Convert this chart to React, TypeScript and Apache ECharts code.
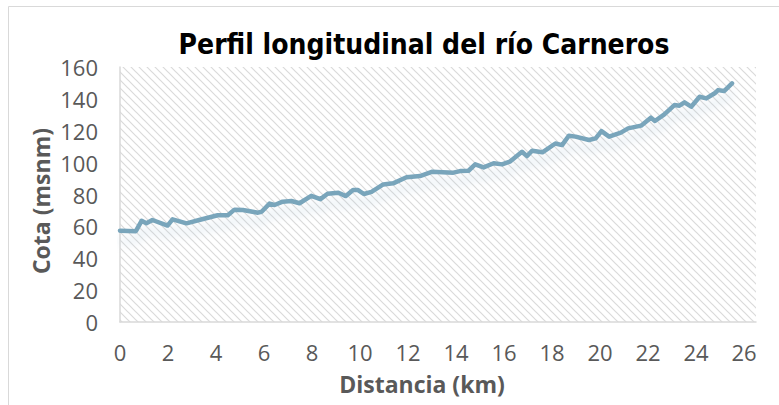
import React, { useEffect, useRef } from "react";
import * as echarts from "echarts";

const distanceKm = [
  0, 0.66, 0.9, 1.1, 1.35, 1.98, 2.19, 2.77, 3.3, 4.07, 4.49, 4.77, 5.12, 5.75, 5.9,
  6.23, 6.44, 6.78, 7.14, 7.48, 7.97, 8.35, 8.65, 9.1, 9.41, 9.71, 9.92, 10.16, 10.48,
  10.97, 11.38, 11.94, 12.5, 12.99, 13.89, 14.17, 14.52, 14.8, 15.15, 15.57, 15.92,
  16.24, 16.75, 16.96, 17.17, 17.6, 17.8, 18.14, 18.42, 18.7, 18.98, 19.54, 19.82,
  20.06, 20.38, 20.87, 21.17, 21.71, 22.12, 22.29, 22.68, 23.1, 23.31, 23.52, 23.8,
  24.15, 24.43, 24.78, 24.92, 25.17, 25.5,
];
const elevation = [
  57.3, 57, 63.5, 62, 64, 60.5, 64.4, 61.9, 64, 67, 67, 70.5, 70.3, 68.6, 69.2,
  74.3, 73.4, 75.5, 75.9, 74.5, 79.2, 77.1, 80.5, 81.1, 79, 82.8, 82.8, 80.3, 81.7,
  86.3, 87, 90.8, 91.6, 94.2, 93.7, 94.7, 94.9, 98.9, 97, 99.6, 98.9,
  100.6, 106.8, 104.1, 107.5, 106.5, 108.5, 112, 111, 116.9, 116.3, 114.2, 115.2,
  119.8, 116.3, 118.8, 121.5, 123.2, 128.2, 126.1, 130.3, 136.1, 135.7, 137.8, 135.1,
  141.3, 140.3, 143.5, 145.5, 144.9, 149.7,
];

const titleText = "Perfil longitudinal del río Carneros";
const xTitle = "Distancia (km)";
const yTitle = "Cota (msnm)";

const hatchSvg =
  "<svg xmlns='http://www.w3.org/2000/svg' width='8' height='8'>" +
  "<path d='M-2,-2 L10,10 M-2,6 L2,10 M6,-2 L10,2' stroke='#dadada' stroke-width='1.2' fill='none'/></svg>";
const hatchUrl = "data:image/svg+xml;charset=utf-8," + encodeURIComponent(hatchSvg);

export default function App() {
  const ref = useRef<HTMLDivElement>(null);
  useEffect(() => {
    if (!ref.current) return;
    const chart = echarts.init(ref.current, undefined, { renderer: "svg" });
    const data = distanceKm.map((d, i) => [d, elevation[i]]);
    chart.setOption({
      animation: false,
      backgroundColor: "#ffffff",
      grid: {
        left: 120,
        right: 23,
        top: 67,
        bottom: 83,
        show: true,
        borderWidth: 0,
        backgroundColor: {
          image: hatchUrl,
          repeat: "repeat",
          imageWidth: 8,
          imageHeight: 8,
        } as any,
      },
      xAxis: {
        type: "value",
        min: 0,
        max: 26.5,
        interval: 2,
        axisLine: { show: true, onZero: false, lineStyle: { color: "#d9d9d9", width: 1.5 } },
        axisTick: { show: false },
        splitLine: { show: false },
        axisLabel: {
          margin: 19,
          color: "#595959",
          fontSize: 22,
          fontFamily: "'Open Sans', sans-serif",
          formatter: (v: number) => (v % 2 === 0 ? String(v) : ""),
        },
      },
      yAxis: {
        type: "value",
        min: 0,
        max: 160,
        interval: 20,
        axisLine: { show: true, lineStyle: { color: "#d9d9d9", width: 1.5 } },
        axisTick: { show: false },
        splitLine: { show: false },
        axisLabel: {
          margin: 22,
          color: "#595959",
          fontSize: 22,
          fontFamily: "'Open Sans', sans-serif",
        },
      },
      series: [
        {
          type: "line",
          data,
          showSymbol: false,
          smooth: false,
          lineStyle: {
            color: "#79a5bb",
            width: 4.5,
            join: "round",
            cap: "round",
            shadowColor: "rgba(160,190,212,0.3)",
            shadowBlur: 10,
            shadowOffsetY: 10,
          },
        },
      ],
      graphic: [
        {
          type: "rect",
          silent: true,
          shape: { x: 8.5, y: 6.5, width: 900, height: 600 },
          style: { fill: "none", stroke: "#d9d9d9", lineWidth: 1 },
        },
        {
          type: "text",
          x: 424,
          y: 44,
          style: {
            text: titleText,
            fill: "#000000",
            font: "bold 28px 'Liberation Sans Narrow', 'DejaVu Sans Condensed', Lato, sans-serif",
            align: "center",
            verticalAlign: "middle",
            textAlign: "center",
            textVerticalAlign: "middle",
          },
        },
        {
          type: "text",
          x: 422,
          y: 384,
          style: {
            text: xTitle,
            fill: "#595959",
            font: "bold 23px 'Open Sans', sans-serif",
            align: "center",
            verticalAlign: "middle",
            textAlign: "center",
            textVerticalAlign: "middle",
          },
        },
        {
          type: "text",
          x: 41,
          y: 201,
          rotation: Math.PI / 2,
          style: {
            text: yTitle,
            fill: "#595959",
            font: "bold 23px 'Open Sans', sans-serif",
            align: "center",
            verticalAlign: "middle",
            textAlign: "center",
            textVerticalAlign: "middle",
          },
        },
      ],
    });
    return () => chart.dispose();
  }, []);
  return (
    <div
      ref={ref}
      style={{ position: "fixed", left: 0, top: 0, width: 779, height: 405 }}
    />
  );
}
